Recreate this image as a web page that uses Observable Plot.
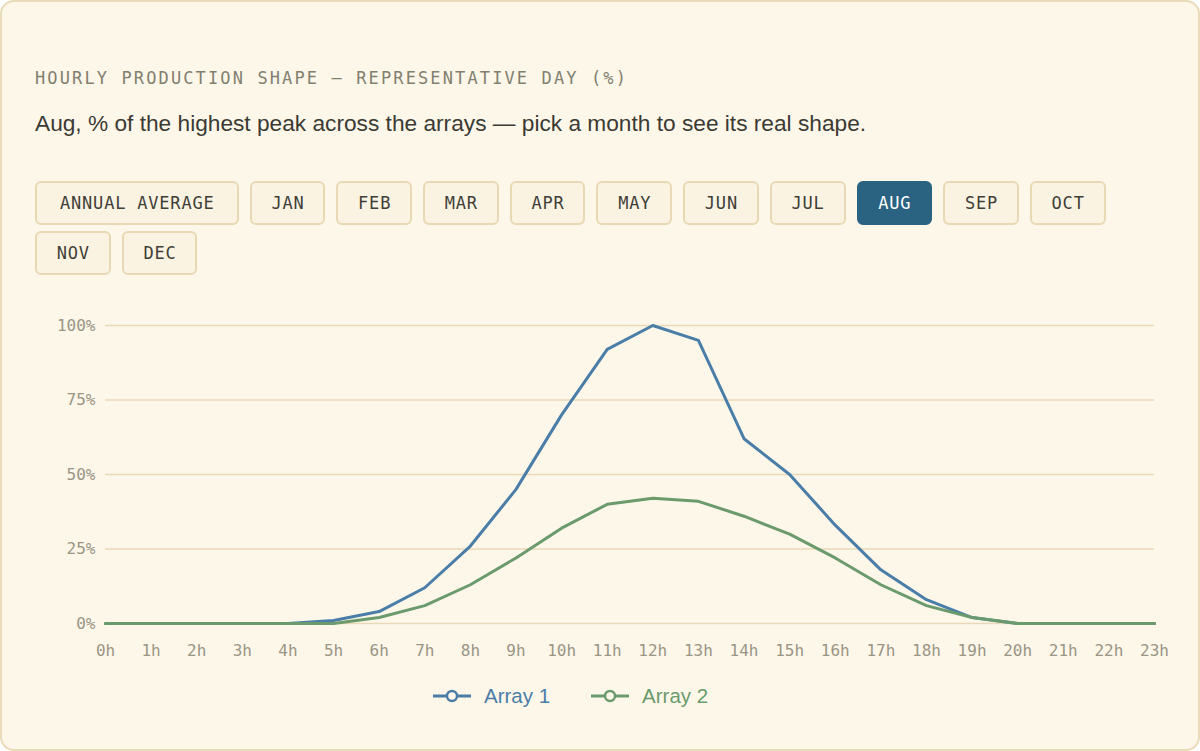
<!DOCTYPE html>
<html>
<head>
<meta charset="utf-8">
<script src="https://cdn.jsdelivr.net/npm/d3@7"></script>
<script src="https://cdn.jsdelivr.net/npm/@observablehq/plot@0.6"></script>
<style>
  html, body { margin: 0; padding: 0; background: #ffffff; }
  body { width: 1200px; height: 751px; overflow: hidden; }
  .card {
    box-sizing: border-box; width: 1200px; height: 751px;
    background: #fdf7ea; border: 2px solid #eadbb8; border-radius: 14px;
    position: relative;
  }
  .title {
    font-family: "DejaVu Sans Mono", monospace; font-size: 17px; letter-spacing: 2.12px;
    color: #82806f; position: absolute; left: 33px; top: 66px; white-space: nowrap;
  }
  .subtitle {
    font-family: "Liberation Sans", Arial, sans-serif; font-size: 22.7px; color: #3b3a33;
    position: absolute; left: 33px; top: 108px; white-space: nowrap;
  }
  .buttons {
    position: absolute; left: 33px; top: 179px; width: 1135px;
    display: flex; flex-wrap: wrap; gap: 6.5px 11px;
  }
  .btn {
    box-sizing: border-box; height: 43.5px; padding: 0 19.7px;
    border: 2px solid #e8d8b3; border-radius: 6px; background: #fbf3e2;
    font-family: "DejaVu Sans Mono", monospace; font-size: 17px; letter-spacing: 0.8px;
    color: #3f3e38; display: flex; align-items: center; justify-content: center;
  }
  .btn.wide { padding: 0 23px; }
  .btn span { margin-right: -0.8px; }
  .btn.active { background: #2a6282; border-color: #2a6282; color: #ffffff; }
  #chart { position: absolute; left: 33px; top: 293px; }
  .legend {
    position: absolute; left: 431px; top: 682px; display: flex; gap: 41px;
    font-family: "Liberation Sans", Arial, sans-serif; font-size: 20.5px;
  }
  .legend .item { display: flex; align-items: center; gap: 13px; }
</style>
</head>
<body>
<div class="card">
  <div class="title">HOURLY PRODUCTION SHAPE — REPRESENTATIVE DAY (%)</div>
  <div class="subtitle">Aug, % of the highest peak across the arrays — pick a month to see its real shape.</div>
  <div class="buttons" id="buttons"></div>
  <div id="chart"></div>
  <div class="legend" id="legend"></div>
</div>
<script>
const buttonLabels = ["ANNUAL AVERAGE","JAN","FEB","MAR","APR","MAY","JUN","JUL","AUG","SEP","OCT","NOV","DEC"];
const activeButton = "AUG";
const hours = d3.range(0, 24);
const hourLabels = hours.map(h => h + "h");
const seriesNames = ["Array 1", "Array 2"];
const seriesColors = ["#4a7ea8", "#6b9b6c"];
const array1 = [0,0,0,0,0,1,4,12,26,45,70,92,100,95,62,50,33,18,8,2,0,0,0,0];
const array2 = [0,0,0,0,0,0,2,6,13,22,32,40,42,41,36,30,22,13,6,2,0,0,0,0];
const yTicks = [0, 25, 50, 75, 100];

const btns = document.getElementById("buttons");
for (const b of buttonLabels) {
  const el = document.createElement("div");
  el.className = "btn" + (b === activeButton ? " active" : "") + (b.length > 3 ? " wide" : "");
  const sp = document.createElement("span");
  sp.textContent = b;
  el.appendChild(sp);
  btns.appendChild(el);
}

const data = [];
[array1, array2].forEach((arr, i) => arr.forEach((v, h) => data.push({hour: h, value: v, series: seriesNames[i]})));

const chart = Plot.plot({
  width: 1134,
  height: 370,
  marginLeft: 70,
  marginRight: 15,
  marginTop: 30,
  marginBottom: 42,
  style: {background: "transparent", fontFamily: "DejaVu Sans Mono, monospace", fontSize: "16px", color: "#9a9584"},
  x: {domain: [0, 23], ticks: hours, tickFormat: d => hourLabels[d], label: null, tickSize: 0, tickPadding: 21},
  y: {domain: [0, 100], ticks: yTicks, tickFormat: d => d + "%", label: null, tickSize: 0, tickPadding: 10},
  color: {domain: seriesNames, range: seriesColors},
  marks: [
    Plot.ruleY(yTicks, {stroke: "#ead9b6", strokeWidth: 1.5}),
    Plot.line(data, {x: "hour", y: "value", z: "series", stroke: "series", strokeWidth: 3})
  ]
});
document.getElementById("chart").appendChild(chart);

const legend = document.getElementById("legend");
seriesNames.forEach((name, i) => {
  const item = document.createElement("div");
  item.className = "item";
  item.style.color = seriesColors[i];
  item.innerHTML = `<svg width="38" height="14"><line x1="0" y1="7" x2="38" y2="7" stroke="${seriesColors[i]}" stroke-width="3"/><circle cx="19" cy="7" r="5" fill="#fdf7ea" stroke="${seriesColors[i]}" stroke-width="2.5"/></svg><span>${name}</span>`;
  legend.appendChild(item);
});
</script>
</body>
</html>
